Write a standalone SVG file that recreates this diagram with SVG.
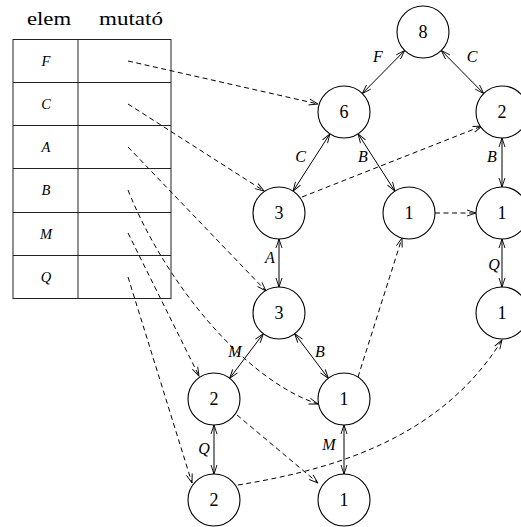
<svg xmlns="http://www.w3.org/2000/svg" width="521" height="527" viewBox="0 0 521 527">
  <style>
    .hdr { font-family: "Liberation Serif", "Times New Roman", serif; font-size: 19px; fill: #000; }
    .key { font-family: "Liberation Serif", "Times New Roman", serif; font-size: 14.5px; font-style: italic; fill: #000; text-anchor: middle; }
    .num { font-family: "Liberation Serif", "Times New Roman", serif; font-size: 18px; fill: #000; text-anchor: middle; }
    .lbl { font-family: "Liberation Serif", "Times New Roman", serif; font-size: 16px; font-style: italic; fill: #000; text-anchor: middle; }
    .grid { fill: none; stroke: #222; stroke-width: 1; }
    .node circle { fill: #fff; stroke: #000; stroke-width: 1.1; }
    .tree { fill: none; stroke: #000; stroke-width: 1; marker-start: url(#arr); marker-end: url(#arr); }
    .ptr { fill: none; stroke: #000; stroke-width: 1; stroke-dasharray: 5 3.5; marker-end: url(#arr); }
  </style>
  <defs>
    <marker id="arr" viewBox="-11 -5 13 10" refX="0" refY="0" markerWidth="13" markerHeight="10" markerUnits="userSpaceOnUse" orient="auto-start-reverse">
      <path d="M-9,-3 L0,0 L-9,3" fill="none" stroke="#000" stroke-width="0.9"/>
    </marker>
  </defs>

  <rect width="521" height="527" fill="#fff"/>

  <!-- header and table of pointers -->
  <g id="table">
    <text class="hdr" x="27" y="25" textLength="44" lengthAdjust="spacingAndGlyphs">elem</text>
    <text class="hdr" x="99" y="25" textLength="64" lengthAdjust="spacingAndGlyphs">mutató</text>
    <rect class="grid" x="13" y="39.5" width="158" height="259"/>
    <line class="grid" x1="78" y1="39.5" x2="78" y2="298.5"/>
    <line class="grid" x1="13" y1="82.5" x2="171" y2="82.5"/>
    <line class="grid" x1="13" y1="125.5" x2="171" y2="125.5"/>
    <line class="grid" x1="13" y1="168.5" x2="171" y2="168.5"/>
    <line class="grid" x1="13" y1="212.5" x2="171" y2="212.5"/>
    <line class="grid" x1="13" y1="255.5" x2="171" y2="255.5"/>
    <text class="key" x="46" y="66">F</text>
    <text class="key" x="46" y="109">C</text>
    <text class="key" x="46" y="152">A</text>
    <text class="key" x="46" y="195">B</text>
    <text class="key" x="46" y="238.5">M</text>
    <text class="key" x="46" y="281.5">Q</text>
  </g>

  <!-- connectors: solid two-way tree edges, dashed pointers -->
  <g id="connectors">
    <line class="tree" x1="404.7" y1="50.5" x2="362.3" y2="93.5"/>
    <line class="tree" x1="441.3" y1="50.5" x2="483.7" y2="93.5"/>
    <line class="tree" x1="329.9" y1="133.9" x2="293.1" y2="191.1"/>
    <line class="tree" x1="358.1" y1="133.9" x2="394.9" y2="191.1"/>
    <line class="tree" x1="502" y1="138" x2="502" y2="187"/>
    <line class="tree" x1="502" y1="239" x2="502" y2="287"/>
    <line class="tree" x1="279" y1="239" x2="279" y2="287"/>
    <line class="tree" x1="263.3" y1="333.7" x2="229.7" y2="378.3"/>
    <line class="tree" x1="294.7" y1="333.7" x2="328.3" y2="378.3"/>
    <line class="tree" x1="214" y1="425" x2="214" y2="474"/>
    <line class="tree" x1="344" y1="425" x2="344" y2="474"/>

    <path class="ptr" d="M128,61 L318,104"/>
    <path class="ptr" d="M128,104 L264,191"/>
    <path class="ptr" d="M128,147 L266,291"/>
    <path class="ptr" d="M128,190 C165,283 245,380 318,404"/>
    <path class="ptr" d="M128,233 L199,376"/>
    <path class="ptr" d="M128,277 L192,483"/>
    <path class="ptr" d="M302,197 L482,126"/>
    <path class="ptr" d="M435,213 L476,213"/>
    <path class="ptr" d="M358,377 L402,238"/>
    <path class="ptr" d="M237,415 L318,483"/>
    <path class="ptr" d="M238,485 C330,470 440,440 502,340"/>

    <text class="lbl" x="378" y="62">F</text>
    <text class="lbl" x="472" y="62">C</text>
    <text class="lbl" x="300.5" y="162">C</text>
    <text class="lbl" x="363" y="162">B</text>
    <text class="lbl" x="492" y="162">B</text>
    <text class="lbl" x="494" y="270">Q</text>
    <text class="lbl" x="270" y="262.5">A</text>
    <text class="lbl" x="235" y="356.5">M</text>
    <text class="lbl" x="320" y="356.5">B</text>
    <text class="lbl" x="204" y="454">Q</text>
    <text class="lbl" x="329" y="449.5">M</text>
  </g>

  <!-- tree nodes -->
  <g id="n8" class="node"><circle cx="423" cy="32" r="26"/><text class="num" x="423" y="38">8</text></g>
  <g id="n6" class="node"><circle cx="344" cy="112" r="26"/><text class="num" x="344" y="118">6</text></g>
  <g id="n2a" class="node"><circle cx="502" cy="112" r="26"/><text class="num" x="502" y="118">2</text></g>
  <g id="n3a" class="node"><circle cx="279" cy="213" r="26"/><text class="num" x="279" y="219">3</text></g>
  <g id="n1a" class="node"><circle cx="409" cy="213" r="26"/><text class="num" x="409" y="219">1</text></g>
  <g id="n1b" class="node"><circle cx="502" cy="213" r="26"/><text class="num" x="502" y="219">1</text></g>
  <g id="n3b" class="node"><circle cx="279" cy="313" r="26"/><text class="num" x="279" y="319">3</text></g>
  <g id="n1c" class="node"><circle cx="502" cy="313" r="26"/><text class="num" x="502" y="319">1</text></g>
  <g id="n2b" class="node"><circle cx="214" cy="399" r="26"/><text class="num" x="214" y="405">2</text></g>
  <g id="n1d" class="node"><circle cx="344" cy="399" r="26"/><text class="num" x="344" y="405">1</text></g>
  <g id="n2c" class="node"><circle cx="214" cy="500" r="26"/><text class="num" x="214" y="506">2</text></g>
  <g id="n1e" class="node"><circle cx="344" cy="500" r="26"/><text class="num" x="344" y="506">1</text></g>
</svg>
